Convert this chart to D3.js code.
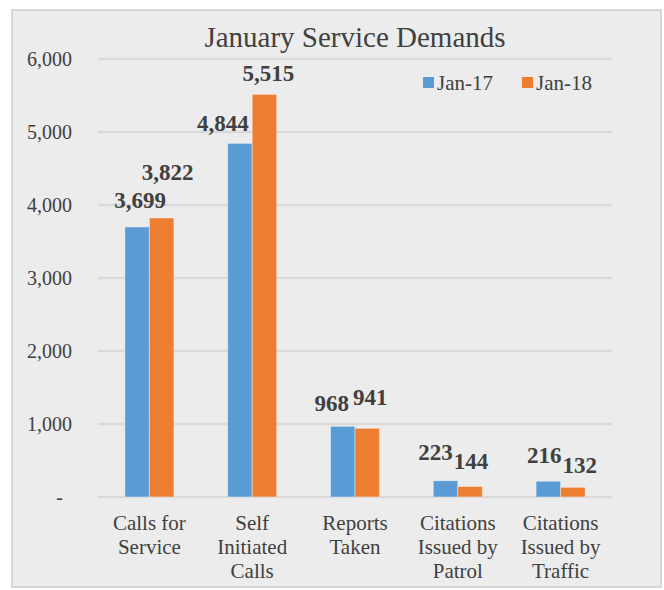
<!DOCTYPE html>
<head>
  <meta charset="utf-8">
  <script src="https://d3js.org/d3.v7.min.js"></script>
  <style>
    body { margin:0; background:#fff; }
    text { font-family: "Liberation Serif", "Times New Roman", serif; fill:#404040; }
  </style>
</head>
<body>
<script>
// chart values
const categories = [["Calls for", "Service"], ["Self", "Initiated", "Calls"], ["Reports", "Taken"],
                    ["Citations", "Issued by", "Patrol"], ["Citations", "Issued by", "Traffic"]];
const seriesNames = ["Jan-17", "Jan-18"];
const jan17 = [3699, 4844, 968, 223, 216];
const jan18 = [3822, 5515, 941, 144, 132];
const yTicks = [0, 1000, 2000, 3000, 4000, 5000, 6000];

// hand-moved data labels in the original: [dx, dy] from bar top
const nudge17 = [[3, -27], [-17, -20], [-11, -23], [-10, -29], [-4, -26]];
const nudge18 = [[6, -46], [4, -21], [3, -31], [1, -26], [7, -22]];

const W = 664, H = 590;
const colors = ["#5b9bd5", "#ed7d31"];

const svg = d3.select("body").append("svg")
    .attr("width", W).attr("height", H);

svg.append("rect")
    .attr("x", 12).attr("y", 10).attr("width", 649).attr("height", 577)
    .attr("fill", "#ececec").attr("stroke", "#d6d6d6").attr("stroke-width", 2);

const x0 = d3.scaleBand()
    .domain(d3.range(categories.length))
    .range([98, 612])
    .paddingInner(0.523).paddingOuter(0.2615);
const x1 = d3.scaleBand()
    .domain(seriesNames)
    .range([0, x0.bandwidth()]);
const y = d3.scaleLinear().domain([0, 6000]).range([497, 59]);

// gridlines
svg.append("g").selectAll("line")
  .data(yTicks).enter().append("line")
    .attr("x1", 98).attr("x2", 612)
    .attr("y1", d => y(d)).attr("y2", d => y(d))
    .attr("stroke", "#d9d9d9").attr("stroke-width", 2.5);

// y labels
svg.append("g").selectAll("text")
  .data(yTicks).enter().append("text")
    .attr("x", d => d === 0 ? 63 : 72)
    .attr("y", d => y(d))
    .attr("dy", "0.35em")
    .attr("text-anchor", "end")
    .attr("font-size", 20)
    .text(d => d === 0 ? "-" : d3.format(",")(d));

// bars
const rows = categories.map((c, i) => ({ i, vals: [jan17[i], jan18[i]] }));
const groups = svg.append("g").selectAll("g")
  .data(rows).enter().append("g")
    .attr("transform", d => `translate(${x0(d.i)},0)`);

groups.selectAll("rect")
  .data(d => d.vals.map((v, s) => ({ v, s })))
  .enter().append("rect")
    .attr("x", d => x1(seriesNames[d.s]))
    .attr("y", d => y(d.v))
    .attr("width", x1.bandwidth())
    .attr("height", d => y(0) - y(d.v))
    .attr("fill", d => colors[d.s])
    .attr("stroke", "#fff").attr("stroke-opacity", 0.4).attr("stroke-width", 1);

// data labels
groups.selectAll("text.val")
  .data(d => d.vals.map((v, s) => ({ v, s, i: d.i })))
  .enter().append("text")
    .attr("class", "val")
    .attr("x", d => x1(seriesNames[d.s]) + x1.bandwidth() / 2 + (d.s ? nudge18 : nudge17)[d.i][0])
    .attr("y", d => y(d.v) + (d.s ? nudge18 : nudge17)[d.i][1])
    .attr("dy", "0.35em")
    .attr("text-anchor", "middle")
    .attr("font-size", 23)
    .attr("font-weight", "bold")
    .text(d => d3.format(",")(d.v));

// category labels
svg.append("g").selectAll("text")
  .data(categories).enter().append("text")
    .attr("x", (d, i) => x0(i) + x0.bandwidth() / 2)
    .attr("y", 530)
    .attr("text-anchor", "middle")
    .attr("font-size", 21)
    .selectAll("tspan")
    .data(d => d).enter().append("tspan")
      .attr("x", function () { return this.parentNode.getAttribute("x"); })
      .attr("dy", (d, j) => j ? 24 : 0)
      .text(d => d);

// title
svg.append("text")
    .attr("x", 355).attr("y", 47)
    .attr("text-anchor", "middle")
    .attr("font-size", 29)
    .text("January Service Demands");

// legend
const legend = svg.append("g").selectAll("g")
  .data(seriesNames).enter().append("g")
    .attr("transform", (d, i) => `translate(${423 + i * 99},77)`);
legend.append("rect")
    .attr("width", 11).attr("height", 11)
    .attr("fill", (d, i) => colors[i]);
legend.append("text")
    .attr("x", 14).attr("y", 6)
    .attr("dy", "0.35em")
    .attr("font-size", 21)
    .text(d => d);
</script>
</body>
